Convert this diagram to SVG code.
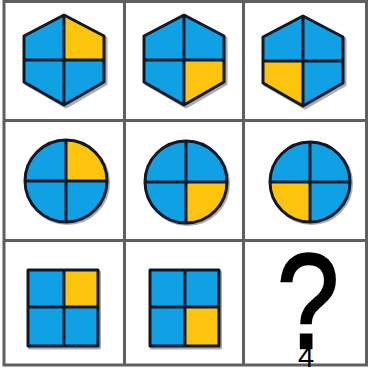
<svg xmlns="http://www.w3.org/2000/svg" width="368" height="372" viewBox="0 0 368 372">
<style>
.grid{stroke:#5f5f5f;stroke-width:3;fill:none}
.b{fill:#0fa1e3}
.y{fill:#fcc40c}
.o{fill:none;stroke:#111826;stroke-width:3;stroke-linejoin:round}
.d{stroke:#0c1a2b;stroke-width:3}
.sh{fill:none;stroke:#8a8a8a;stroke-width:3;stroke-linejoin:round;opacity:0.7}
.q{font-family:"Liberation Sans",Arial,sans-serif;fill:#000}
</style>
<rect width="368" height="372" fill="#fff"/>
<g id="grid">
<rect class="grid" x="4" y="1.5" width="362.5" height="363.5"/>
<line class="grid" x1="124.5" y1="1" x2="124.5" y2="365"/>
<line class="grid" x1="243.5" y1="1" x2="243.5" y2="365"/>
<line class="grid" x1="4" y1="120.5" x2="367" y2="120.5"/>
<line class="grid" x1="4" y1="240.5" x2="367" y2="240.5"/>
</g>
<g id="hex1">
<polygon class="sh" points="66,17 106,38 106,84 66,107 26,84 26,38"/>
<polygon class="b" points="64,15 104,36 104,82 64,105 24,82 24,36"/>
<polygon class="y" points="64,15 104,36 104,60 64,60"/>
<line class="d" x1="24" y1="60" x2="104" y2="60"/><line class="d" x1="64" y1="15" x2="64" y2="105"/>
<polygon class="o" points="64,15 104,36 104,82 64,105 24,82 24,36"/>
</g>
<g id="hex2">
<polygon class="sh" points="186,17 226,38 226,84 186,107 146,84 146,38"/>
<polygon class="b" points="184,15 224,36 224,82 184,105 144,82 144,36"/>
<polygon class="y" points="184,60 224,60 224,82 184,105"/>
<line class="d" x1="144" y1="60" x2="224" y2="60"/><line class="d" x1="184" y1="15" x2="184" y2="105"/>
<polygon class="o" points="184,15 224,36 224,82 184,105 144,82 144,36"/>
</g>
<g id="hex3">
<polygon class="sh" points="305,18 345,39 345,85 305,108 265,85 265,39"/>
<polygon class="b" points="303,16 343,37 343,83 303,106 263,83 263,37"/>
<polygon class="y" points="263,61 303,61 303,106 263,83"/>
<line class="d" x1="263" y1="61" x2="343" y2="61"/><line class="d" x1="303" y1="16" x2="303" y2="106"/>
<polygon class="o" points="303,16 343,37 343,83 303,106 263,83 263,37"/>
</g>
<g id="circle1">
<circle class="sh" cx="67.5" cy="182.5" r="41"/>
<circle class="b" cx="66" cy="181" r="41"/>
<path class="y" d="M66,181 V140 A41,41 0 0 1 107,181 Z"/>
<line class="d" x1="25" y1="181" x2="107" y2="181"/><line class="d" x1="66" y1="140" x2="66" y2="222"/>
<circle class="o" cx="66" cy="181" r="41"/>
</g>
<g id="circle2">
<circle class="sh" cx="187.5" cy="183.5" r="41"/>
<circle class="b" cx="186" cy="182" r="41"/>
<path class="y" d="M186,182 H227 A41,41 0 0 1 186,223 Z"/>
<line class="d" x1="145" y1="182" x2="227" y2="182"/><line class="d" x1="186" y1="141" x2="186" y2="223"/>
<circle class="o" cx="186" cy="182" r="41"/>
</g>
<g id="circle3">
<circle class="sh" cx="311.5" cy="183.5" r="40"/>
<circle class="b" cx="310" cy="182" r="40"/>
<path class="y" d="M310,182 V222 A40,40 0 0 1 270,182 Z"/>
<line class="d" x1="270" y1="182" x2="350" y2="182"/><line class="d" x1="310" y1="142" x2="310" y2="222"/>
<circle class="o" cx="310" cy="182" r="40"/>
</g>
<g id="square1">
<rect class="sh" x="29.5" y="272" width="70" height="76"/>
<rect class="b" x="28" y="270" width="70" height="76"/>
<rect class="y" x="64" y="270" width="34" height="37"/>
<line class="d" x1="28" y1="307" x2="98" y2="307"/><line class="d" x1="64" y1="270" x2="64" y2="346"/>
<rect class="o" x="28" y="270" width="70" height="76"/>
</g>
<g id="square2">
<rect class="sh" x="151.5" y="272" width="69" height="76"/>
<rect class="b" x="150" y="270" width="69" height="76"/>
<rect class="y" x="185" y="307" width="34" height="39"/>
<line class="d" x1="150" y1="307" x2="219" y2="307"/><line class="d" x1="185" y1="270" x2="185" y2="346"/>
<rect class="o" x="150" y="270" width="69" height="76"/>
</g>
<g id="question">
<text class="q" transform="translate(308,348) scale(0.82,1)" x="0" y="0" font-size="136" stroke="#000" stroke-width="2.5" text-anchor="middle">?</text>
<text class="q" x="306" y="367" font-size="29" text-anchor="middle">4</text>
</g>
</svg>
